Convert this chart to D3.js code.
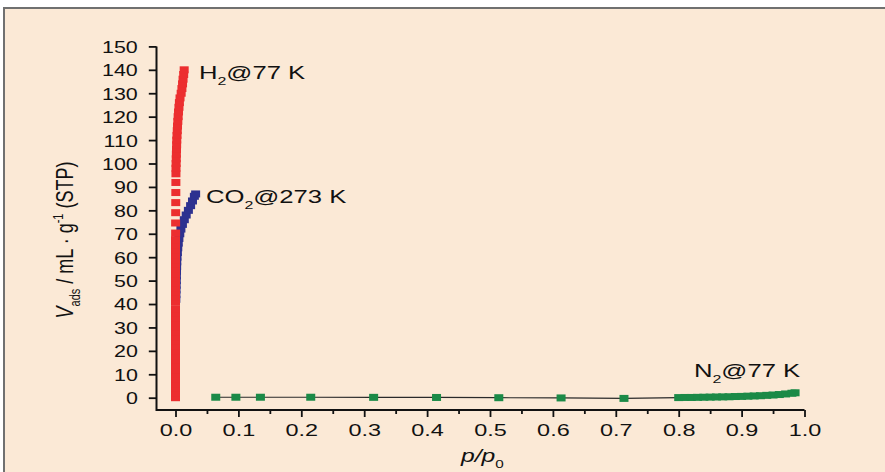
<!DOCTYPE html>
<html>
<head>
<meta charset="utf-8">
<script src="https://cdn.jsdelivr.net/npm/d3@7"></script>
<style>
  html, body { margin: 0; padding: 0; background: #fff; }
  svg { display: block; font-family: "Liberation Sans", Arial, sans-serif; }
</style>
</head>
<body>
<script>
// H2 @ 77 K
const h2P = [0,0,0,0,0,0,0,0,0,0,0,0,0,0,0,0,0,0,0,0,0,0,0,0,0,0,0,0,0,0,0,0,0,0,
  0.0002,0.0002,0.0003,0.0004,0.0005,0.0006,0.0007,
  0.0008,0.001,0.0012,0.0014,0.0016,0.0018,0.002,0.0024,0.0028,0.0032,0.0037,0.0042,0.0048,0.0055,0.0062,0.0072,0.009,0.0102,0.0112,0.012,0.013,0.0138];
const h2V = [0,2,4,6,8,10,12,14,16,18,20,22,24,26,28,30,32,34,36,38,40.9,43,45,47,49,51,53,55,57,59,61,63,65,67.5,
  70.3,74.6,79,83.3,87.6,91.9,95.6,
  98,100,102,104,106,108,110,112,114,116,118,120,122,124,126,128,130,132,134,136,138,140];

// CO2 @ 273 K
const co2P = [0.0005,0.0006,0.0008,0.001,0.0012,0.0014,0.0016,0.0018,0.002,0.0024,0.003,0.0036,0.0044,0.0054,0.0068,0.0086,0.011,0.014,0.017,0.0205,0.024,0.027,0.03,0.032];
const co2V = [42,44,46,48,50,52,54,56,58,60,62,64,66,68,70,72,74,76,78,80,82,84,86,87];

// N2 @ 77 K
const n2P = [0.064,0.096,0.135,0.215,0.315,0.415,0.514,0.613,0.713,
  0.80,0.81,0.82,0.83,0.84,0.85,0.86,0.87,0.88,0.89,0.90,0.91,0.92,0.93,0.94,0.95,0.96,0.97,0.98,0.985];
const n2V = [0.2,0.2,0.2,0.2,0.15,0.1,0.0,-0.1,-0.3,
  0.05,0.1,0.1,0.15,0.2,0.25,0.3,0.35,0.4,0.5,0.55,0.65,0.75,0.85,1.0,1.15,1.35,1.6,1.9,2.1];

const xTicks = [0,0.1,0.2,0.3,0.4,0.5,0.6,0.7,0.8,0.9,1.0];
const xMinorTicks = [0.05,0.15,0.25,0.35,0.45,0.55,0.65,0.75,0.85,0.95];
const yTicks = [0,10,20,30,40,50,60,70,80,90,100,110,120,130,140,150];

const colors = { h2: '#ec2e2f', co2: '#2d3190', n2: '#1b8a47' };
const W = 885, H = 472;
const axisX = 156.5, axisY = 410;

const svg = d3.select('body').append('svg').attr('width', W).attr('height', H);

// panel
svg.append('rect').attr('width', W).attr('height', H).attr('fill', '#fff');
svg.append('rect').attr('x', 4).attr('y', 8).attr('width', W + 20).attr('height', H + 20)
  .attr('fill', '#fbe9d6').attr('stroke', '#707070').attr('stroke-width', 2);

const x = d3.scaleLinear().domain([0, 1]).range([175.5, 804.5]);
const y = d3.scaleLinear().domain([0, 150]).range([397.7, 46.4]);

// x axis
const gx = svg.append('g').attr('transform', `translate(0,${axisY})`);
gx.call(d3.axisBottom(x).tickValues(xTicks).tickSize(7).tickFormat(d3.format('.1f')));
gx.select('.domain').remove();
gx.selectAll('.tick line').attr('stroke', '#111').attr('stroke-width', 1.8);
gx.selectAll('.tick text').attr('fill', '#111').style('font-size', '16.5px')
  .attr('y', 26.5).attr('dy', 0).attr('transform', 'scale(1.42,1)');
const gxm = svg.append('g').attr('transform', `translate(0,${axisY})`);
gxm.call(d3.axisBottom(x).tickValues(xMinorTicks).tickSize(4).tickFormat(''));
gxm.select('.domain').remove();
gxm.selectAll('.tick line').attr('stroke', '#111').attr('stroke-width', 1.8);

// y axis
const gy = svg.append('g').attr('transform', `translate(${axisX},0)`);
gy.call(d3.axisLeft(y).tickValues(yTicks).tickSize(7.7));
gy.select('.domain').remove();
gy.selectAll('.tick line').attr('stroke', '#111').attr('stroke-width', 1.8);
gy.selectAll('.tick text').attr('fill', '#111').style('font-size', '16.5px')
  .attr('x', -18.7 / 1.3).attr('dy', '0.36em').attr('transform', 'scale(1.3,1)');

// axis lines
svg.append('line').attr('x1', axisX).attr('x2', x(1)).attr('y1', axisY).attr('y2', axisY)
  .attr('stroke', '#111').attr('stroke-width', 2);
svg.append('line').attr('x1', axisX).attr('x2', axisX).attr('y1', axisY + 1).attr('y2', y(150))
  .attr('stroke', '#111').attr('stroke-width', 2);

// series
function drawSeries(ps, vs, color, withLine) {
  const pts = ps.map((p, i) => [p, vs[i]]);
  if (withLine) {
    svg.append('path').datum(pts)
      .attr('d', d3.line().x(d => x(d[0])).y(d => y(d[1])))
      .attr('fill', 'none').attr('stroke', '#2a2a2a').attr('stroke-width', 1.2);
  }
  svg.append('g').selectAll('rect').data(pts).enter().append('rect')
    .attr('x', d => x(d[0]) - 4.5).attr('y', d => y(d[1]) - 3.5)
    .attr('width', 9).attr('height', 7).attr('fill', color);
}
drawSeries(co2P, co2V, colors.co2, false);
drawSeries(h2P, h2V, colors.h2, false);
drawSeries(n2P, n2V, colors.n2, true);

// labels
function label(px, py, parts, size, sx) {
  const t = svg.append('g').attr('transform', `translate(${px},${py}) scale(${sx},1)`)
    .append('text').attr('fill', '#111').style('font-size', size + 'px');
  parts.forEach(p => {
    const s = t.append('tspan').text(p.t);
    if (p.sub) s.style('font-size', (size * 0.62) + 'px').attr('dy', size * 0.3);
    if (p.back) s.attr('dy', -size * 0.3);
    if (p.it) s.style('font-style', 'italic');
  });
  return t;
}
label(199, 79, [{ t: 'H' }, { t: '2', sub: true }, { t: '@77 K', back: true }], 19, 1.35);
label(206, 203, [{ t: 'CO' }, { t: '2', sub: true }, { t: '@273 K', back: true }], 19, 1.35);
label(694, 377, [{ t: 'N' }, { t: '2', sub: true }, { t: '@77 K', back: true }], 19, 1.35);
label(461, 462, [{ t: 'p/p', it: true }, { t: '0', sub: true }], 19, 1.3);

// y axis title
const yt = svg.append('g').attr('transform', 'translate(73,240) scale(1.3,1) rotate(-90)')
  .append('text').attr('text-anchor', 'middle').attr('fill', '#111').style('font-size', '18px');
yt.append('tspan').text('V').style('font-style', 'italic');
yt.append('tspan').text('ads').style('font-size', '11px').attr('dy', 5);
yt.append('tspan').text(' / mL · g').attr('dy', -5);
yt.append('tspan').text('-1').style('font-size', '11px').attr('dy', -7.5);
yt.append('tspan').text(' (STP)').attr('dy', 7.5);
</script>
</body>
</html>
